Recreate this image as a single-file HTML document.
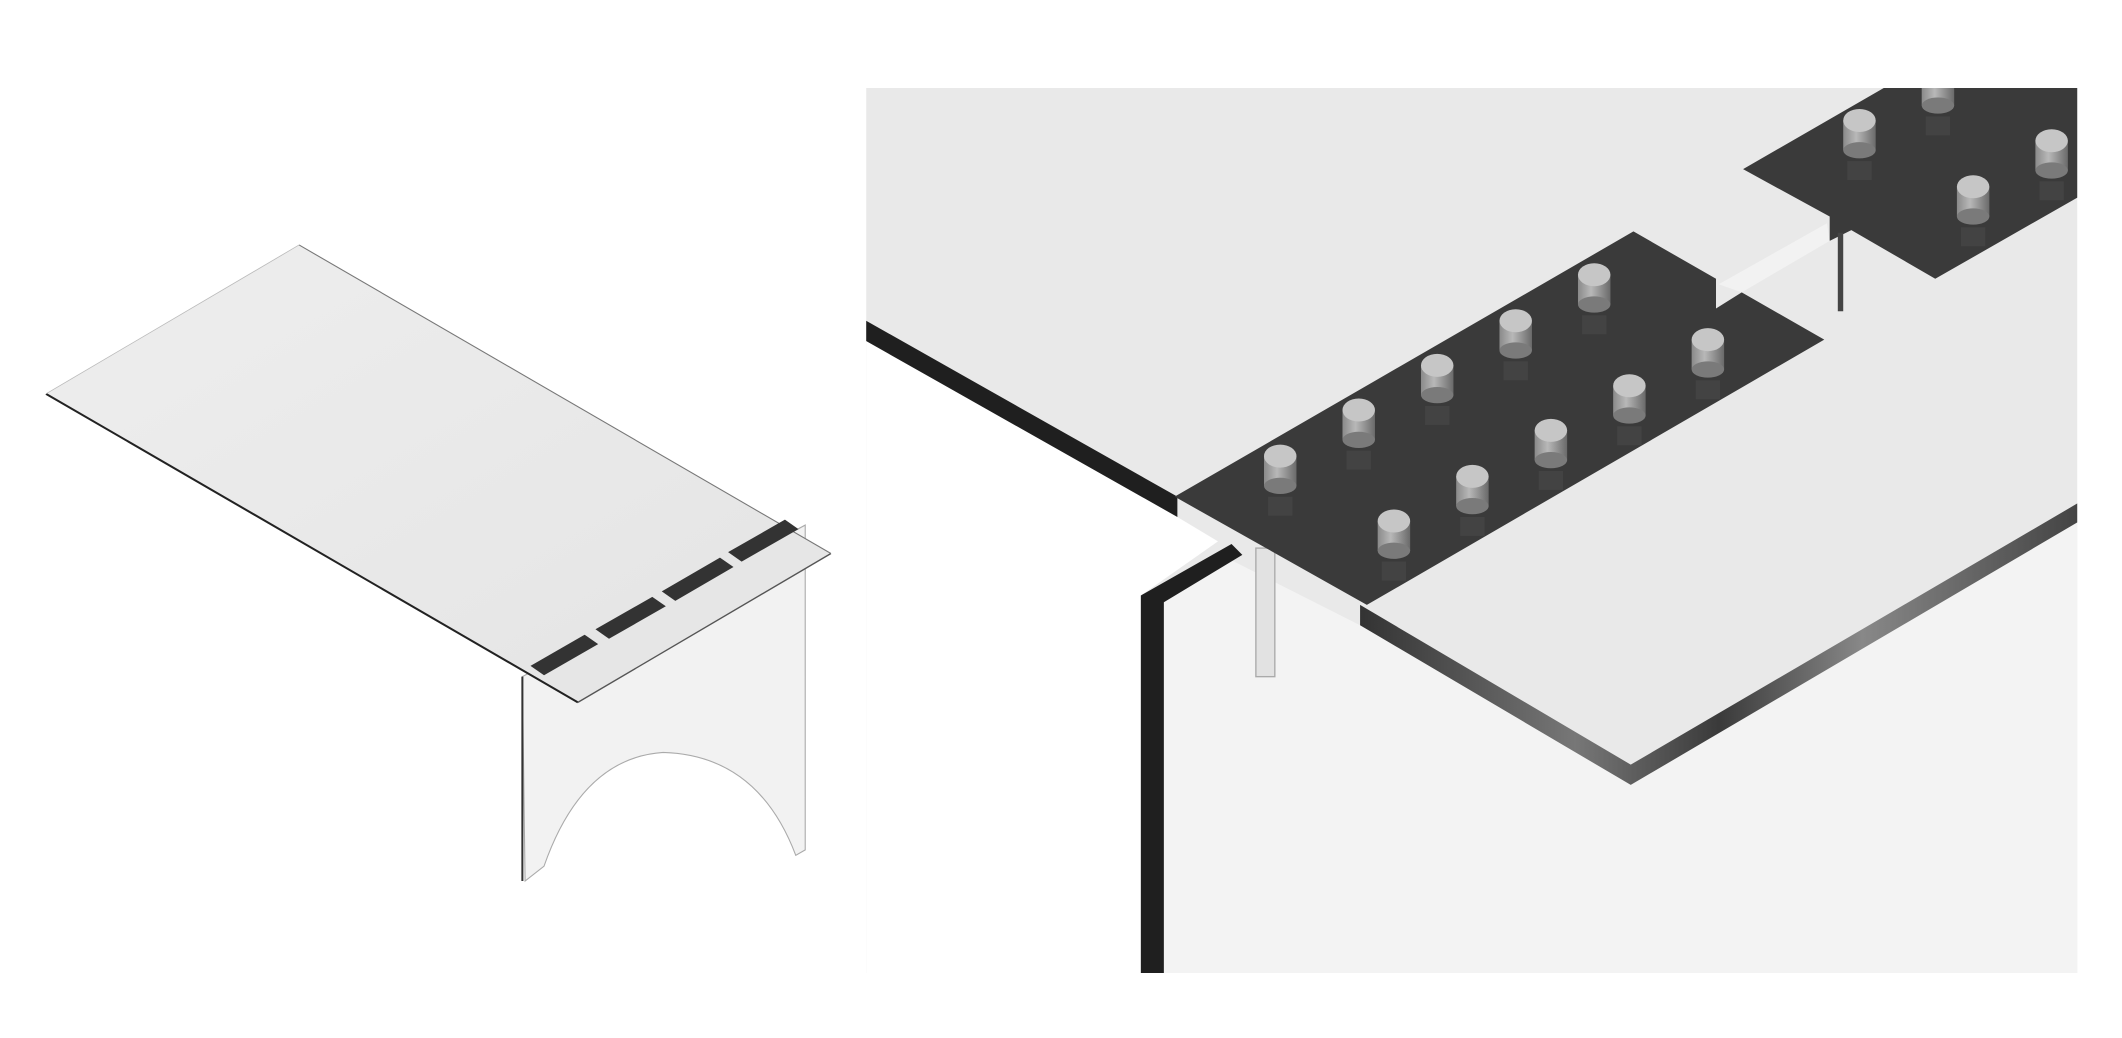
<!DOCTYPE html>
<html><head><meta charset="utf-8"><style>html,body{margin:0;padding:0;background:#fff;}svg{display:block}</style></head>
<body>
<svg width="2122" height="1038" viewBox="0 0 1568 767" preserveAspectRatio="none" xmlns="http://www.w3.org/2000/svg">
<defs>
<linearGradient id="top" x1="0" y1="0" x2="1" y2="1"><stop offset="0" stop-color="#eeeeee"/><stop offset="1" stop-color="#e4e4e4"/></linearGradient>
<linearGradient id="cyl" x1="0" x2="1"><stop offset="0" stop-color="#8a8a8a"/><stop offset="0.4" stop-color="#b8b8b8"/><stop offset="1" stop-color="#6a6a6a"/></linearGradient>
<linearGradient id="edge" x1="0" x2="1"><stop offset="0" stop-color="#333"/><stop offset="0.3" stop-color="#777"/><stop offset="0.5" stop-color="#3a3a3a"/><stop offset="0.7" stop-color="#888"/><stop offset="1" stop-color="#444"/></linearGradient>
<clipPath id="rc"><rect x="640" y="65" width="895" height="654"/></clipPath>
<g id="peg"><rect x="-12" y="0" width="24" height="22" fill="url(#cyl)"/><ellipse cx="0" cy="22" rx="12" ry="6" fill="#7a7a7a"/><ellipse cx="0" cy="0" rx="12" ry="8.5" fill="#c6c6c6"/><rect x="-9" y="30" width="18" height="14" fill="#555" opacity="0.35"/></g>
</defs>
<!-- LEFT -->
<path d="M386,500 L595,388 L595,628 L588,632 Q560,558 490,556 Q430,560 402,640 L388,651 Z" fill="#f2f2f2" stroke="#aaa" stroke-width="0.8"/>
<line x1="386" y1="500" x2="386" y2="651" stroke="#333" stroke-width="1.5"/>
<polygon points="34,291 221,181 614,409 427,519" fill="url(#top)"/>
<polyline points="34,291 427,519" fill="none" stroke="#222" stroke-width="1.5"/>
<polyline points="427,519 614,409" fill="none" stroke="#555" stroke-width="1"/>
<line x1="221" y1="181" x2="614" y2="409" stroke="#777" stroke-width="0.8"/>
<line x1="34" y1="291" x2="221" y2="181" stroke="#bbb" stroke-width="0.6"/>
<g fill="#333">
<polygon points="392,492 432,469 442,476 402,499"/>
<polygon points="440,465 482,441 492,448 450,472"/>
<polygon points="489,437 532,412 542,419 499,444"/>
<polygon points="538,408 580,384 590,391 548,415"/>
</g>
<!-- RIGHT -->
<g clip-path="url(#rc)">
<rect x="640" y="65" width="895" height="654" fill="#e9e9e9"/>
<polygon points="860,445 910,414 1005,462 1205,580 1535,386 1535,719 860,719" fill="#f3f3f3"/>
<polygon points="640,252 870,382 900,400 843,440 843,719 640,719" fill="#fff"/>
<polygon points="640,237 870,367 870,382 640,252" fill="#1f1f1f"/>
<polygon points="843,440 910,402 918,410 860,445 860,719 843,719" fill="#1f1f1f"/>
<polygon points="1005,447 1205,565 1535,372 1535,386 1205,580 1005,462" fill="url(#edge)"/>
<rect x="928" y="405" width="14" height="95" fill="#e2e2e2" stroke="#aaa" stroke-width="1"/>
<polygon points="868,367 1207,171 1268,206 1268,228 1287,216 1348,251 1010,447" fill="#3a3a3a"/>
<polygon points="1288,125 1392,65 1535,65 1535,146 1430,206 1368,170 1352,178 1352,160" fill="#3a3a3a"/>
<polygon points="1270,210 1350,165 1352,178 1287,216" fill="#f4f4f4" opacity="0.8"/>
<rect x="1358" y="172" width="4" height="58" fill="#444"/>
<use href="#peg" x="946" y="337"/><use href="#peg" x="1004" y="303"/><use href="#peg" x="1062" y="270"/><use href="#peg" x="1120" y="237"/><use href="#peg" x="1178" y="203"/>
<use href="#peg" x="1030" y="385"/><use href="#peg" x="1088" y="352"/><use href="#peg" x="1146" y="318"/><use href="#peg" x="1204" y="285"/><use href="#peg" x="1262" y="251"/>
<use href="#peg" x="1374" y="89"/><use href="#peg" x="1432" y="56"/><use href="#peg" x="1458" y="138"/><use href="#peg" x="1516" y="104"/>
</g>
</svg>
</body></html>
